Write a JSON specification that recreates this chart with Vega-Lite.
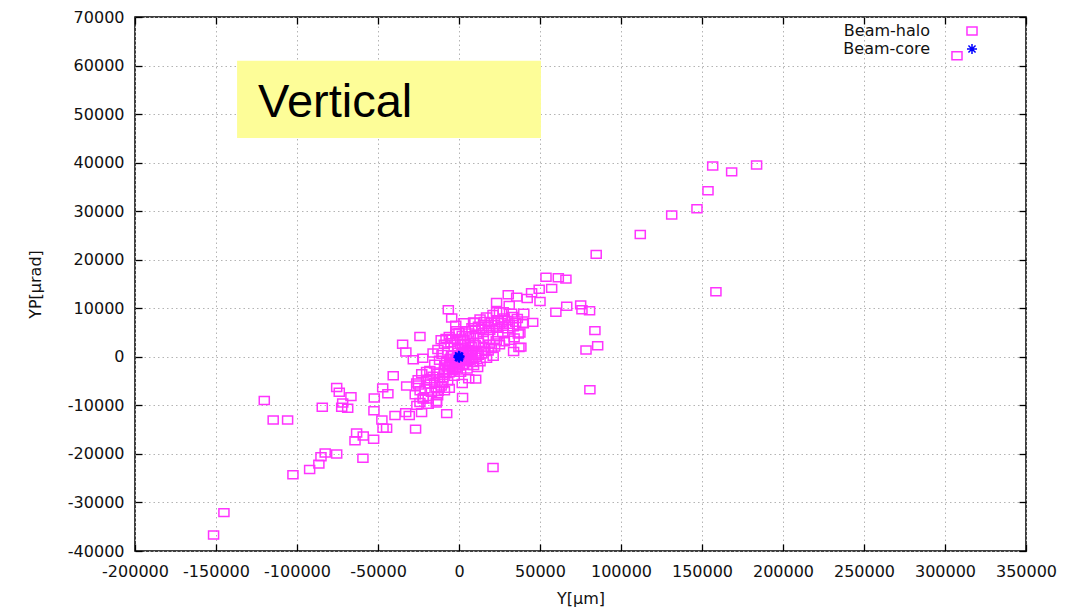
{
  "$schema": "https://vega.github.io/schema/vega-lite/v6.json",
  "width": 891,
  "height": 534,
  "autosize": {"type": "none"},
  "padding": {"left": 135, "top": 17, "right": 42, "bottom": 58},
  "background": "white",
  "config": {
    "view": {"stroke": "black", "strokeWidth": 1.5},
    "axis": {
      "domain": false,
      "tickColor": "black",
      "tickWidth": 1.3,
      "tickSize": -7,
      "gridColor": "#b4b4b4",
      "gridDash": [1.5, 3],
      "gridWidth": 1,
      "labelFont": "DejaVu Sans",
      "labelFontSize": 16,
      "labelColor": "#111111",
      "labelOverlap": false,
      "labelFlush": false,
      "labelExpr": "datum.value + ''",
      "titleFont": "DejaVu Sans",
      "titleFontSize": 16,
      "titleFontWeight": "normal",
      "titleColor": "#111111"
    }
  },
  "layer": [
    {
      "data": {"values": [{}]},
      "mark": {"type": "rect", "color": "#fdfd98"},
      "encoding": {
        "x": {"datum": -137000, "type": "quantitative", "scale": {"domain": [-200000, 350000], "nice": false, "zero": false},
              "axis": {"orient": "top", "labels": false, "grid": false, "title": null, "values": [-200000,-150000,-100000,-50000,0,50000,100000,150000,200000,250000,300000,350000]}},
        "x2": {"datum": 50600},
        "y": {"datum": 61000, "type": "quantitative", "scale": {"domain": [-40000, 70000], "nice": false, "zero": false},
              "axis": {"orient": "right", "labels": false, "grid": false, "title": null, "values": [-40000,-30000,-20000,-10000,0,10000,20000,30000,40000,50000,60000,70000]}},
        "y2": {"datum": 45100}
      }
    },
    {
      "data": {"values": [{}]},
      "mark": {"type": "text", "text": "Vertical", "font": "Liberation Sans", "fontSize": 47, "align": "left", "baseline": "alphabetic", "color": "black"},
      "encoding": {
        "x": {"datum": -124000, "type": "quantitative", "axis": null},
        "y": {"datum": 49400, "type": "quantitative", "axis": null}
      }
    },
    {
      "data": {"values": [
        {"x": -151500, "y": -36700, "t": "Beam-halo"},
        {"x": -145100, "y": -32100, "t": "Beam-halo"},
        {"x": -120200, "y": -9000, "t": "Beam-halo"},
        {"x": -114700, "y": -13000, "t": "Beam-halo"},
        {"x": -105800, "y": -13000, "t": "Beam-halo"},
        {"x": -102500, "y": -24300, "t": "Beam-halo"},
        {"x": -92200, "y": -23200, "t": "Beam-halo"},
        {"x": -86500, "y": -22100, "t": "Beam-halo"},
        {"x": -85200, "y": -20600, "t": "Beam-halo"},
        {"x": -82600, "y": -19800, "t": "Beam-halo"},
        {"x": -75500, "y": -20000, "t": "Beam-halo"},
        {"x": -84400, "y": -10400, "t": "Beam-halo"},
        {"x": -75500, "y": -6300, "t": "Beam-halo"},
        {"x": -73900, "y": -7300, "t": "Beam-halo"},
        {"x": -66700, "y": -8200, "t": "Beam-halo"},
        {"x": -71800, "y": -9500, "t": "Beam-halo"},
        {"x": -68700, "y": -10600, "t": "Beam-halo"},
        {"x": -72400, "y": -10400, "t": "Beam-halo"},
        {"x": -63200, "y": -15700, "t": "Beam-halo"},
        {"x": -59100, "y": -16300, "t": "Beam-halo"},
        {"x": -64200, "y": -17300, "t": "Beam-halo"},
        {"x": -59300, "y": -20900, "t": "Beam-halo"},
        {"x": -52700, "y": -17000, "t": "Beam-halo"},
        {"x": -52300, "y": -8500, "t": "Beam-halo"},
        {"x": -47100, "y": -6400, "t": "Beam-halo"},
        {"x": -43900, "y": -7600, "t": "Beam-halo"},
        {"x": -40600, "y": -3900, "t": "Beam-halo"},
        {"x": -52500, "y": -11100, "t": "Beam-halo"},
        {"x": -47600, "y": -13000, "t": "Beam-halo"},
        {"x": -44700, "y": -14700, "t": "Beam-halo"},
        {"x": -46900, "y": -14700, "t": "Beam-halo"},
        {"x": -39500, "y": -12100, "t": "Beam-halo"},
        {"x": -32900, "y": -11500, "t": "Beam-halo"},
        {"x": -30700, "y": -12100, "t": "Beam-halo"},
        {"x": -26800, "y": -14900, "t": "Beam-halo"},
        {"x": -23100, "y": -11500, "t": "Beam-halo"},
        {"x": -7600, "y": -11700, "t": "Beam-halo"},
        {"x": -32300, "y": -6000, "t": "Beam-halo"},
        {"x": -26100, "y": -5400, "t": "Beam-halo"},
        {"x": -25200, "y": -4700, "t": "Beam-halo"},
        {"x": -24100, "y": -9400, "t": "Beam-halo"},
        {"x": -22100, "y": -8700, "t": "Beam-halo"},
        {"x": -19000, "y": -8700, "t": "Beam-halo"},
        {"x": -13800, "y": -9200, "t": "Beam-halo"},
        {"x": -13200, "y": -8000, "t": "Beam-halo"},
        {"x": -12800, "y": -7100, "t": "Beam-halo"},
        {"x": -34800, "y": 2600, "t": "Beam-halo"},
        {"x": -32800, "y": 1000, "t": "Beam-halo"},
        {"x": -28200, "y": -600, "t": "Beam-halo"},
        {"x": -22400, "y": -300, "t": "Beam-halo"},
        {"x": -24100, "y": 4200, "t": "Beam-halo"},
        {"x": -6600, "y": 9700, "t": "Beam-halo"},
        {"x": -4500, "y": 8000, "t": "Beam-halo"},
        {"x": 2200, "y": -8400, "t": "Beam-halo"},
        {"x": 10300, "y": -4600, "t": "Beam-halo"},
        {"x": 21100, "y": 100, "t": "Beam-halo"},
        {"x": 21000, "y": -22800, "t": "Beam-halo"},
        {"x": 53700, "y": 16400, "t": "Beam-halo"},
        {"x": 61300, "y": 16300, "t": "Beam-halo"},
        {"x": 66000, "y": 16000, "t": "Beam-halo"},
        {"x": 49500, "y": 13900, "t": "Beam-halo"},
        {"x": 57200, "y": 14100, "t": "Beam-halo"},
        {"x": 44800, "y": 13200, "t": "Beam-halo"},
        {"x": 42100, "y": 12000, "t": "Beam-halo"},
        {"x": 50000, "y": 11400, "t": "Beam-halo"},
        {"x": 59800, "y": 9200, "t": "Beam-halo"},
        {"x": 66500, "y": 10400, "t": "Beam-halo"},
        {"x": 75100, "y": 10700, "t": "Beam-halo"},
        {"x": 75900, "y": 9700, "t": "Beam-halo"},
        {"x": 80600, "y": 9500, "t": "Beam-halo"},
        {"x": 45500, "y": 7100, "t": "Beam-halo"},
        {"x": 39700, "y": 6800, "t": "Beam-halo"},
        {"x": 37600, "y": 4900, "t": "Beam-halo"},
        {"x": 38200, "y": 2000, "t": "Beam-halo"},
        {"x": 83900, "y": 5400, "t": "Beam-halo"},
        {"x": 78400, "y": 1400, "t": "Beam-halo"},
        {"x": 85600, "y": 2300, "t": "Beam-halo"},
        {"x": 80800, "y": -6800, "t": "Beam-halo"},
        {"x": 84700, "y": 21100, "t": "Beam-halo"},
        {"x": 111900, "y": 25200, "t": "Beam-halo"},
        {"x": 131300, "y": 29200, "t": "Beam-halo"},
        {"x": 146900, "y": 30500, "t": "Beam-halo"},
        {"x": 153700, "y": 34200, "t": "Beam-halo"},
        {"x": 156600, "y": 39300, "t": "Beam-halo"},
        {"x": 168300, "y": 38100, "t": "Beam-halo"},
        {"x": 183700, "y": 39500, "t": "Beam-halo"},
        {"x": 158600, "y": 13400, "t": "Beam-halo"},
        {"x": 307400, "y": 62000, "t": "Beam-halo"},
        {"x": 23200, "y": 11200, "t": "Beam-halo"},
        {"x": 31000, "y": 10600, "t": "Beam-halo"},
        {"x": 27300, "y": 9300, "t": "Beam-halo"},
        {"x": 32500, "y": 9000, "t": "Beam-halo"},
        {"x": 23200, "y": 9300, "t": "Beam-halo"},
        {"x": 24200, "y": 7400, "t": "Beam-halo"},
        {"x": 30400, "y": 12800, "t": "Beam-halo"},
        {"x": 35600, "y": 12300, "t": "Beam-halo"},
        {"x": 9800, "y": 7100, "t": "Beam-halo"},
        {"x": 15600, "y": 7300, "t": "Beam-halo"},
        {"x": -1400, "y": 5400, "t": "Beam-halo"},
        {"x": 33700, "y": 1100, "t": "Beam-halo"},
        {"x": 37000, "y": 1900, "t": "Beam-halo"},
        {"x": 36600, "y": 4700, "t": "Beam-halo"},
        {"x": 33500, "y": 6200, "t": "Beam-halo"},
        {"x": 39300, "y": 6900, "t": "Beam-halo"},
        {"x": -1200, "y": -300, "t": "Beam-halo"},
        {"x": 800, "y": 200, "t": "Beam-halo"},
        {"x": 2500, "y": 600, "t": "Beam-halo"},
        {"x": -2600, "y": -900, "t": "Beam-halo"},
        {"x": 4000, "y": 1200, "t": "Beam-halo"},
        {"x": -4200, "y": -1100, "t": "Beam-halo"},
        {"x": 1500, "y": -800, "t": "Beam-halo"},
        {"x": -500, "y": 900, "t": "Beam-halo"},
        {"x": 3200, "y": -200, "t": "Beam-halo"},
        {"x": -3500, "y": 400, "t": "Beam-halo"},
        {"x": 5600, "y": 1500, "t": "Beam-halo"},
        {"x": -5800, "y": -1700, "t": "Beam-halo"},
        {"x": 6800, "y": 800, "t": "Beam-halo"},
        {"x": -6900, "y": -2100, "t": "Beam-halo"},
        {"x": 300, "y": -1500, "t": "Beam-halo"},
        {"x": -800, "y": 1600, "t": "Beam-halo"},
        {"x": 2100, "y": 1900, "t": "Beam-halo"},
        {"x": -2200, "y": -2200, "t": "Beam-halo"},
        {"x": 4700, "y": -600, "t": "Beam-halo"},
        {"x": -4600, "y": 300, "t": "Beam-halo"},
        {"x": 7500, "y": 2100, "t": "Beam-halo"},
        {"x": -7600, "y": -900, "t": "Beam-halo"},
        {"x": 1000, "y": 2600, "t": "Beam-halo"},
        {"x": -1100, "y": -2700, "t": "Beam-halo"},
        {"x": 3800, "y": 2800, "t": "Beam-halo"},
        {"x": -3900, "y": -2900, "t": "Beam-halo"},
        {"x": 5100, "y": 300, "t": "Beam-halo"},
        {"x": -5200, "y": -300, "t": "Beam-halo"},
        {"x": 6200, "y": 2600, "t": "Beam-halo"},
        {"x": -6300, "y": -2600, "t": "Beam-halo"},
        {"x": 8200, "y": 1200, "t": "Beam-halo"},
        {"x": -8300, "y": -1600, "t": "Beam-halo"},
        {"x": 9000, "y": 2900, "t": "Beam-halo"},
        {"x": -9100, "y": -3200, "t": "Beam-halo"},
        {"x": 200, "y": 400, "t": "Beam-halo"},
        {"x": -300, "y": -400, "t": "Beam-halo"},
        {"x": 1800, "y": 700, "t": "Beam-halo"},
        {"x": -1900, "y": -600, "t": "Beam-halo"},
        {"x": 2900, "y": 1000, "t": "Beam-halo"},
        {"x": -3000, "y": -1300, "t": "Beam-halo"},
        {"x": -11000, "y": 3500, "t": "Beam-halo"},
        {"x": -8000, "y": 3800, "t": "Beam-halo"},
        {"x": -6000, "y": 4200, "t": "Beam-halo"},
        {"x": -4000, "y": 3600, "t": "Beam-halo"},
        {"x": -2000, "y": 4800, "t": "Beam-halo"},
        {"x": 0, "y": 5000, "t": "Beam-halo"},
        {"x": 2000, "y": 4400, "t": "Beam-halo"},
        {"x": 4000, "y": 5300, "t": "Beam-halo"},
        {"x": 6000, "y": 4900, "t": "Beam-halo"},
        {"x": 8000, "y": 6000, "t": "Beam-halo"},
        {"x": 10000, "y": 5600, "t": "Beam-halo"},
        {"x": 12000, "y": 6300, "t": "Beam-halo"},
        {"x": 14000, "y": 5800, "t": "Beam-halo"},
        {"x": 16000, "y": 6700, "t": "Beam-halo"},
        {"x": 18000, "y": 6200, "t": "Beam-halo"},
        {"x": 20000, "y": 7200, "t": "Beam-halo"},
        {"x": 22000, "y": 6600, "t": "Beam-halo"},
        {"x": 24000, "y": 7600, "t": "Beam-halo"},
        {"x": 26000, "y": 7000, "t": "Beam-halo"},
        {"x": 28000, "y": 8000, "t": "Beam-halo"},
        {"x": 30000, "y": 7500, "t": "Beam-halo"},
        {"x": 33000, "y": 8300, "t": "Beam-halo"},
        {"x": 36000, "y": 7900, "t": "Beam-halo"},
        {"x": 40000, "y": 9000, "t": "Beam-halo"},
        {"x": -9000, "y": 2600, "t": "Beam-halo"},
        {"x": -5000, "y": 2900, "t": "Beam-halo"},
        {"x": -1000, "y": 3300, "t": "Beam-halo"},
        {"x": 3000, "y": 3500, "t": "Beam-halo"},
        {"x": 7000, "y": 4100, "t": "Beam-halo"},
        {"x": 11000, "y": 4600, "t": "Beam-halo"},
        {"x": 15000, "y": 5000, "t": "Beam-halo"},
        {"x": 19000, "y": 5400, "t": "Beam-halo"},
        {"x": 23000, "y": 5900, "t": "Beam-halo"},
        {"x": 27000, "y": 6300, "t": "Beam-halo"},
        {"x": 31000, "y": 6700, "t": "Beam-halo"},
        {"x": 35000, "y": 7100, "t": "Beam-halo"},
        {"x": 9000, "y": 7200, "t": "Beam-halo"},
        {"x": 13000, "y": 7800, "t": "Beam-halo"},
        {"x": 17000, "y": 8200, "t": "Beam-halo"},
        {"x": 21000, "y": 8700, "t": "Beam-halo"},
        {"x": 25000, "y": 9300, "t": "Beam-halo"},
        {"x": -27000, "y": -7800, "t": "Beam-halo"},
        {"x": -24000, "y": -7000, "t": "Beam-halo"},
        {"x": -21000, "y": -6600, "t": "Beam-halo"},
        {"x": -18000, "y": -5600, "t": "Beam-halo"},
        {"x": -15000, "y": -5300, "t": "Beam-halo"},
        {"x": -12000, "y": -4500, "t": "Beam-halo"},
        {"x": -10000, "y": -4300, "t": "Beam-halo"},
        {"x": -8000, "y": -3500, "t": "Beam-halo"},
        {"x": -6000, "y": -3300, "t": "Beam-halo"},
        {"x": -4000, "y": -2500, "t": "Beam-halo"},
        {"x": -2000, "y": -2400, "t": "Beam-halo"},
        {"x": 0, "y": -1900, "t": "Beam-halo"},
        {"x": 2000, "y": -1700, "t": "Beam-halo"},
        {"x": 4000, "y": -1000, "t": "Beam-halo"},
        {"x": 6000, "y": -800, "t": "Beam-halo"},
        {"x": 8000, "y": -300, "t": "Beam-halo"},
        {"x": 10000, "y": -100, "t": "Beam-halo"},
        {"x": 12000, "y": 300, "t": "Beam-halo"},
        {"x": 14000, "y": 600, "t": "Beam-halo"},
        {"x": 16000, "y": 1100, "t": "Beam-halo"},
        {"x": 18000, "y": 1200, "t": "Beam-halo"},
        {"x": 20000, "y": 1700, "t": "Beam-halo"},
        {"x": 22000, "y": 2000, "t": "Beam-halo"},
        {"x": 25000, "y": 2500, "t": "Beam-halo"},
        {"x": 28000, "y": 3100, "t": "Beam-halo"},
        {"x": 31000, "y": 3400, "t": "Beam-halo"},
        {"x": 34000, "y": 3900, "t": "Beam-halo"},
        {"x": -25000, "y": -5800, "t": "Beam-halo"},
        {"x": -20000, "y": -4900, "t": "Beam-halo"},
        {"x": -16000, "y": -4000, "t": "Beam-halo"},
        {"x": -13000, "y": -3400, "t": "Beam-halo"},
        {"x": -9000, "y": -2700, "t": "Beam-halo"},
        {"x": -5000, "y": -1800, "t": "Beam-halo"},
        {"x": -1000, "y": -1000, "t": "Beam-halo"},
        {"x": 3000, "y": -400, "t": "Beam-halo"},
        {"x": 7000, "y": 300, "t": "Beam-halo"},
        {"x": 11000, "y": 1000, "t": "Beam-halo"},
        {"x": 15000, "y": 1900, "t": "Beam-halo"},
        {"x": 19000, "y": 2600, "t": "Beam-halo"},
        {"x": 23000, "y": 3300, "t": "Beam-halo"},
        {"x": -22000, "y": -8400, "t": "Beam-halo"},
        {"x": -17000, "y": -7300, "t": "Beam-halo"},
        {"x": -14000, "y": -6600, "t": "Beam-halo"},
        {"x": -11000, "y": -6000, "t": "Beam-halo"},
        {"x": -7000, "y": -5000, "t": "Beam-halo"},
        {"x": -3000, "y": -4000, "t": "Beam-halo"},
        {"x": 1000, "y": -3200, "t": "Beam-halo"},
        {"x": 5000, "y": -2500, "t": "Beam-halo"},
        {"x": 9000, "y": -1800, "t": "Beam-halo"},
        {"x": 13000, "y": -1000, "t": "Beam-halo"},
        {"x": 17000, "y": -300, "t": "Beam-halo"},
        {"x": -15000, "y": -1500, "t": "Beam-halo"},
        {"x": -12000, "y": -700, "t": "Beam-halo"},
        {"x": -18000, "y": -2800, "t": "Beam-halo"},
        {"x": -20000, "y": -3000, "t": "Beam-halo"},
        {"x": 12000, "y": 3000, "t": "Beam-halo"},
        {"x": 15000, "y": 3800, "t": "Beam-halo"},
        {"x": 18000, "y": 4200, "t": "Beam-halo"},
        {"x": 10000, "y": 2500, "t": "Beam-halo"},
        {"x": -13000, "y": 1500, "t": "Beam-halo"},
        {"x": -16000, "y": 800, "t": "Beam-halo"},
        {"x": 24000, "y": 4500, "t": "Beam-halo"},
        {"x": 27000, "y": 5000, "t": "Beam-halo"},
        {"x": 30000, "y": 5800, "t": "Beam-halo"},
        {"x": -2000, "y": 6500, "t": "Beam-halo"},
        {"x": 3000, "y": 7000, "t": "Beam-halo"},
        {"x": -6000, "y": -6500, "t": "Beam-halo"},
        {"x": -9000, "y": -7000, "t": "Beam-halo"},
        {"x": 2000, "y": -5500, "t": "Beam-halo"},
        {"x": 6000, "y": -4500, "t": "Beam-halo"},
        {"x": -14000, "y": -9500, "t": "Beam-halo"},
        {"x": -19000, "y": -9800, "t": "Beam-halo"},
        {"x": -26000, "y": -10000, "t": "Beam-halo"},
        {"x": -23000, "y": -3500, "t": "Beam-halo"},
        {"x": -10500, "y": 500, "t": "Beam-halo"},
        {"x": -7000, "y": 1200, "t": "Beam-halo"},
        {"x": -3000, "y": 2000, "t": "Beam-halo"},
        {"x": 5000, "y": -1800, "t": "Beam-halo"},
        {"x": 8500, "y": -1200, "t": "Beam-halo"},
        {"x": 11500, "y": -2200, "t": "Beam-halo"},
        {"x": -10000, "y": -5500, "t": "Beam-halo"},
        {"x": -17500, "y": -4500, "t": "Beam-halo"},
        {"x": 0, "y": 0, "t": "Beam-core"},
        {"x": 400, "y": 100, "t": "Beam-core"},
        {"x": -400, "y": -100, "t": "Beam-core"},
        {"x": 200, "y": -200, "t": "Beam-core"},
        {"x": -200, "y": 200, "t": "Beam-core"}
      ]},
      "mark": {"type": "point", "filled": false, "strokeWidth": 1.5, "size": 70, "opacity": 1},
      "encoding": {
        "x": {"field": "x", "type": "quantitative",
              "axis": {"orient": "bottom", "title": "Y[µm]", "grid": true, "labelPadding": 19, "titlePadding": 11,
                       "values": [-200000,-150000,-100000,-50000,0,50000,100000,150000,200000,250000,300000,350000]}},
        "y": {"field": "y", "type": "quantitative",
              "axis": {"orient": "left", "title": "YP[µrad]", "grid": true, "labelPadding": 18, "titlePadding": 24,
                       "values": [-40000,-30000,-20000,-10000,0,10000,20000,30000,40000,50000,60000,70000]}},
        "color": {"field": "t", "type": "nominal",
                  "scale": {"domain": ["Beam-halo", "Beam-core"], "range": ["#ff33ff", "#0000ff"]},
                  "legend": {"orient": "none", "legendX": 786, "legendY": 6, "title": null, "labelAlign": "right", "labelOffset": -50,
                             "symbolOffset": 43, "padding": 0, "rowPadding": 1, "labelFont": "DejaVu Sans", "labelFontSize": 16,
                             "labelColor": "#111111", "symbolStrokeWidth": 1.5, "symbolSize": 70}},
        "shape": {"field": "t", "type": "nominal",
                  "scale": {"domain": ["Beam-halo", "Beam-core"], "range": ["M-1.2,-0.95H1.2V0.95H-1.2Z", "M-1.2,0H1.2M0,-1.2V1.2M-0.85,-0.85L0.85,0.85M-0.85,0.85L0.85,-0.85"]},
                  "legend": {"orient": "none", "legendX": 786, "legendY": 6, "title": null, "labelAlign": "right", "labelOffset": -50,
                             "symbolOffset": 43, "padding": 0, "rowPadding": 1, "labelFont": "DejaVu Sans", "labelFontSize": 16,
                             "labelColor": "#111111", "symbolStrokeWidth": 1.5, "symbolSize": 70}}
      }
    }
  ]
}
